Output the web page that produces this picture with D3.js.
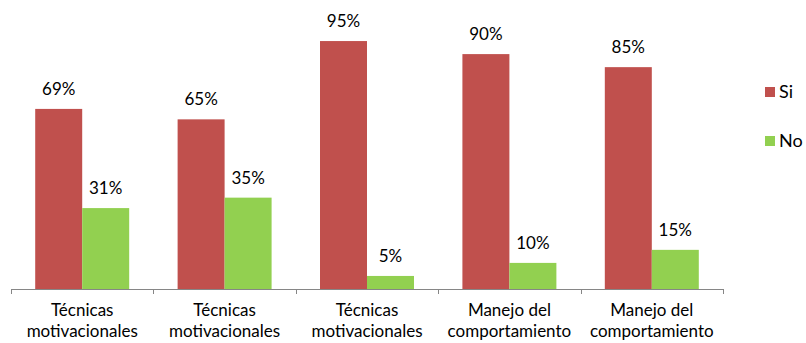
<!DOCTYPE html>
<html>
<head>
<meta charset="utf-8">
<script src="https://cdn.jsdelivr.net/npm/d3@7"></script>
<style>
  body { margin: 0; background: #fff; }
  text { font-family: Lato, "Open Sans", sans-serif; fill: #000; }
</style>
</head>
<body>
<svg id="chart" width="806" height="343"></svg>
<script>
// chart data
var categories = [
  ["Técnicas", "motivacionales"],
  ["Técnicas", "motivacionales"],
  ["Técnicas", "motivacionales"],
  ["Manejo del", "comportamiento"],
  ["Manejo del", "comportamiento"]
];
var siValues = [69, 65, 95, 90, 85];
var noValues = [31, 35, 5, 10, 15];
var seriesNames = ["Si", "No"];
var seriesColors = ["#C0504D", "#92D050"];

var svg = d3.select("#chart");
var LEFT = 11, RIGHT = 723, BASE = 289, TOP = 28;

// one band per category, ticks sit on the band edges
var x = d3.scaleBand().domain(d3.range(categories.length)).range([LEFT, RIGHT]);
var y = d3.scaleLinear().domain([0, 100]).range([BASE, TOP]);

var groupW = x.bandwidth();
var barW = groupW * 0.33;

var rows = categories.map(function(c, i) {
  return { i: i, vals: [siValues[i], noValues[i]] };
});

var groups = svg.selectAll("g.grp")
  .data(rows)
  .enter().append("g")
  .attr("class", "grp")
  .attr("transform", function(d) { return "translate(" + (x(d.i) + groupW / 2 - barW) + ",0)"; });

groups.selectAll("rect")
  .data(function(d) { return d.vals; })
  .enter().append("rect")
  .attr("x", function(d, j) { return j * barW; })
  .attr("y", function(d) { return y(d); })
  .attr("width", barW)
  .attr("height", function(d) { return BASE - y(d); })
  .attr("fill", function(d, j) { return seriesColors[j]; });

groups.selectAll("text.lbl")
  .data(function(d) { return d.vals; })
  .enter().append("text")
  .attr("class", "lbl")
  .attr("x", function(d, j) { return j * barW + barW / 2; })
  .attr("y", function(d) { return y(d) - 14; })
  .attr("text-anchor", "middle")
  .style("font-size", "17px")
  .text(function(d) { return d + "%"; });

// axis line with tick marks at group edges
var tickXs = d3.range(categories.length + 1).map(function(i) {
  return i < categories.length ? x(i) : RIGHT;
});
svg.append("line")
  .attr("x1", LEFT).attr("x2", RIGHT)
  .attr("y1", BASE + 0.5).attr("y2", BASE + 0.5)
  .attr("stroke", "#868686").attr("stroke-width", 1);
svg.selectAll("line.tick")
  .data(tickXs)
  .enter().append("line")
  .attr("class", "tick")
  .attr("x1", function(d) { return Math.round(d) + 0.5; })
  .attr("x2", function(d) { return Math.round(d) + 0.5; })
  .attr("y1", BASE).attr("y2", BASE + 5)
  .attr("stroke", "#868686");

// category labels
var catText = svg.selectAll("text.cat")
  .data(categories)
  .enter().append("text")
  .attr("class", "cat")
  .attr("text-anchor", "middle")
  .style("font-size", "17px")
  .attr("x", function(d, i) { return x(i) + groupW / 2; })
  .attr("y", 316);
catText.selectAll("tspan")
  .data(function(d) { return d; })
  .enter().append("tspan")
  .attr("x", function() { return d3.select(this.parentNode).attr("x"); })
  .attr("dy", function(d, k) { return k === 0 ? 0 : 21; })
  .text(function(d) { return d; });

// legend
var legend = svg.selectAll("g.leg")
  .data(seriesNames)
  .enter().append("g")
  .attr("class", "leg")
  .attr("transform", function(d, i) { return "translate(765," + (87 + i * 49) + ")"; });
legend.append("rect")
  .attr("width", 10).attr("height", 10)
  .attr("fill", function(d, i) { return seriesColors[i]; });
legend.append("text")
  .attr("x", 14).attr("y", 11)
  .style("font-size", "18px")
  .text(function(d) { return d; });
</script>
</body>
</html>
